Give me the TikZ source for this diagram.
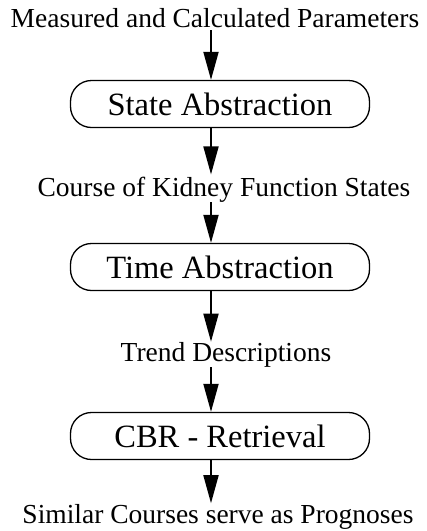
\documentclass[tikz,border=0pt]{standalone}
\usepackage{fontspec}
\setmainfont{Liberation Serif}
\usetikzlibrary{arrows.meta}
\begin{document}
\begin{tikzpicture}[x=1pt,y=-1pt,
  label/.style={inner sep=0pt,anchor=base,font=\fontsize{27.5}{32}\selectfont},
  stage/.style={draw,line width=1.3pt,rounded corners=21pt,minimum width=299pt,
    minimum height=47pt,inner sep=0pt,font=\fontsize{32.5}{38}\selectfont},
  flow/.style={line width=1.8pt,-{Triangle[length=28pt,width=15pt]}}]
\useasboundingbox (0,0) rectangle (427,531);
% vertical axis that all flow arrows follow
\coordinate (axis) at (211,0);
% labels between the stages
\node[label] (input)  at (215,27)  {Measured and Calculated Parameters};
\node[label] (states) at (224,196) {Course of Kidney Function States};
\node[label] (trends) at (226,361) {Trend Descriptions};
\node[label] (output) at (218,523.5) {Similar Courses serve as Prognoses};
% processing stages
\node[stage] (sa)  at (220,104) {State Abstraction};
\node[stage] (ta)  at (220,267) {Time Abstraction};
\node[stage] (cbr) at (220,436) {CBR - Retrieval};
% flow arrows
\draw[flow,shorten <=3pt] (input.south -| axis) -- (sa.north -| axis);
\draw[flow,shorten >=2pt] (sa.south -| axis) -- (states.north -| axis);
\draw[flow] (states.south -| axis) -- (ta.north -| axis);
\draw[flow] (ta.south -| axis) -- (trends.north -| axis);
\draw[flow] (trends.south -| axis) -- (cbr.north -| axis);
\draw[flow,shorten >=1pt] (cbr.south -| axis) -- (output.north -| axis);
\end{tikzpicture}
\end{document}
